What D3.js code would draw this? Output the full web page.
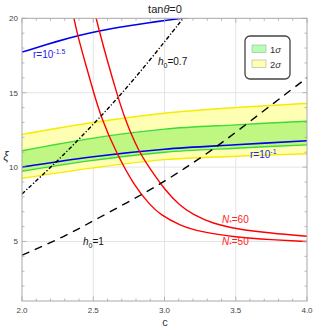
<!DOCTYPE html>
<html><head><meta charset="utf-8">
<script src="https://cdn.jsdelivr.net/npm/d3@7"></script>
<style>html,body{margin:0;padding:0;background:#fff;}svg{display:block;font-family:"Liberation Sans",Arial,sans-serif;}</style>
</head><body>
<script>
// ---- data ----
const bandC = [2.0, 2.5, 3.0, 3.5, 4.0];
const yellowUpper = [12.2, 13.0, 13.62, 14.0, 14.27];
const greenUpper = [11.1, 11.95, 12.55, 12.84, 13.08];
const rMinus1 = [10.0, 10.7, 11.2, 11.5, 11.77];
const greenLower = [9.72, 10.45, 11.0, 11.27, 11.49];
const yellowLower = [9.25, 9.95, 10.5, 10.73, 10.9];

const rMinus15C = [2.0, 2.266, 2.388, 2.542, 2.75, 2.9, 3.0, 3.2];
const rMinus15Xi = [17.73, 18.51, 18.82, 19.17, 19.5, 19.72, 19.85, 20.1];

const n50C = [2.36, 2.39, 2.45, 2.5, 2.56, 2.66, 2.79, 2.9, 2.97, 3.11, 3.25, 3.5, 3.75, 4.0];
const n50Xi = [20.2, 18.85, 16.8, 15.1, 13.2, 11.0, 8.7, 7.44, 6.8, 6.07, 5.65, 5.28, 5.12, 5.0];

const n60C = [2.515, 2.542, 2.6, 2.664, 2.722, 2.816, 2.898, 3.0, 3.108, 3.2, 3.34, 3.5, 3.75, 4.0];
const n60Xi = [20.2, 19.17, 17.1, 15.0, 13.22, 11.1, 9.89, 8.5, 7.4, 6.8, 6.2, 5.85, 5.55, 5.35];

const h07C = [2.0, 2.255, 2.535, 2.675, 2.9, 3.131];
const h07Xi = [8.2, 10.44, 13.22, 14.67, 17.2, 20];

const h1C = [2.0, 2.3, 2.52, 2.9, 3.15, 3.39, 3.8, 4.0];
const h1Xi = [4.08, 5.33, 6.5, 8.44, 9.95, 11.51, 14.55, 16.0];

const xMajor = [2.0, 2.5, 3.0, 3.5, 4.0];
const xTickLabels = ["2.0", "2.5", "3.0", "3.5", "4.0"];
const yMajor = [5, 10, 15, 20];
const yTickLabels = ["5", "10", "15", "20"];

// ---- layout ----
const W = 313, H = 332;
const L = 22, R = 307, T = 18.3, B = 301;
const x = d3.scaleLinear().domain([2, 4]).range([L, R]);
const y = d3.scaleLinear().domain([1, 20]).range([B, T]);

const svg = d3.select("body").append("svg").attr("width", W).attr("height", H);
svg.append("defs").append("clipPath").attr("id", "clip")
  .append("rect").attr("x", L).attr("y", T).attr("width", R - L).attr("height", B - T);

// gridlines
const grid = svg.append("g").attr("stroke", "#e4e4e4").attr("stroke-width", 1);
[2.5, 3.0, 3.5].forEach(v => grid.append("line").attr("x1", x(v)).attr("x2", x(v)).attr("y1", T).attr("y2", B));
[5, 10, 15].forEach(v => grid.append("line").attr("x1", L).attr("x2", R).attr("y1", y(v)).attr("y2", y(v)));

const plot = svg.append("g").attr("clip-path", "url(#clip)");
const smooth = d3.curveCatmullRom.alpha(0.5);

function band(lo, hi, fill) {
  const pts = bandC.map((c, i) => ({c, lo: lo[i], hi: hi[i]}));
  plot.append("path").datum(pts)
    .attr("d", d3.area().x(d => x(d.c)).y0(d => y(d.lo)).y1(d => y(d.hi)).curve(smooth))
    .attr("fill", fill).attr("stroke", "none");
}
function line(cs, vs, color, width, dash, crv) {
  const pts = cs.map((c, i) => [c, vs[i]]);
  const p = plot.append("path").datum(pts)
    .attr("d", d3.line().x(d => x(d[0])).y(d => y(d[1])).curve(crv || smooth))
    .attr("fill", "none").attr("stroke", color).attr("stroke-width", width);
  if (dash) p.attr("stroke-dasharray", dash);
}

band(yellowLower, yellowUpper, "#ffffb4");
band(greenLower, greenUpper, "rgba(60,230,30,0.33)");
line(bandC, yellowUpper, "#f5ec00", 1.4);
line(bandC, yellowLower, "#f5ec00", 1.4);
line(bandC, greenUpper, "#3ed93e", 1.4);
line(bandC, greenLower, "#3ed93e", 1.4);
line(bandC, rMinus1, "#0000ee", 1.6);
line(rMinus15C, rMinus15Xi, "#0000ee", 1.6, null, d3.curveBasis);
line(n50C, n50Xi, "#ff0000", 1.4, null, d3.curveBasis);
line(n60C, n60Xi, "#ff0000", 1.4, null, d3.curveBasis);
line(h07C, h07Xi, "#000", 1.4, "4,2,1.2,2", d3.curveBasis);
line(h1C, h1Xi, "#000", 1.4, "8,6", d3.curveBasis);

// frame
const frame = svg.append("g");
frame.append("rect").attr("x", L).attr("y", T).attr("width", R - L).attr("height", B - T)
  .attr("fill", "none").attr("stroke", "#a8a8a8").attr("stroke-width", 1);
const tk = frame.append("g").attr("stroke", "#a8a8a8").attr("stroke-width", 0.8);
for (let i = 0; i <= 20; i++) {
  const v = 2 + i * 0.1, len = (i % 5 === 0) ? 4.5 : 2.5;
  tk.append("line").attr("x1", x(v)).attr("x2", x(v)).attr("y1", B).attr("y2", B - len);
  tk.append("line").attr("x1", x(v)).attr("x2", x(v)).attr("y1", T).attr("y2", T + len);
}
for (let v = 2; v <= 20; v++) {
  const len = (v % 5 === 0) ? 4.5 : 2.5;
  tk.append("line").attr("x1", L).attr("x2", L + len).attr("y1", y(v)).attr("y2", y(v));
  tk.append("line").attr("x1", R).attr("x2", R - len).attr("y1", y(v)).attr("y2", y(v));
}
const tl = svg.append("g").attr("font-size", 8).attr("fill", "#444");
xMajor.forEach((v, i) => tl.append("text").attr("x", x(v)).attr("y", B + 12).attr("text-anchor", "middle").text(xTickLabels[i]));
yMajor.forEach((v, i) => tl.append("text").attr("x", L - 4).attr("y", y(v) + 3).attr("text-anchor", "end").text(yTickLabels[i]));

// axis labels and title
svg.append("text").attr("x", 165).attr("y", 326).attr("text-anchor", "middle").attr("font-size", 11).attr("fill", "#333").text("c");
svg.append("text").attr("x", 6).attr("y", 160).attr("text-anchor", "middle").attr("font-size", 12).attr("fill", "#333").attr("font-style", "italic").text("ξ");
const title = svg.append("text").attr("x", 165).attr("y", 13).attr("text-anchor", "middle").attr("font-size", 11).attr("fill", "#222");
title.append("tspan").text("tan");
title.append("tspan").attr("font-style", "italic").text("θ");
title.append("tspan").text("=0");

// curve labels
const lab = svg.append("g").attr("font-size", 10);
let t = lab.append("text").attr("x", 33).attr("y", 58).attr("fill", "#2222ee");
t.append("tspan").text("r=10");
t.append("tspan").attr("dy", -4.5).attr("font-size", 7).text("-1.5");
t = lab.append("text").attr("x", 250).attr("y", 158).attr("fill", "#2222ee");
t.append("tspan").text("r=10");
t.append("tspan").attr("dy", -4.5).attr("font-size", 7).text("-1");
t = lab.append("text").attr("x", 158).attr("y", 65).attr("fill", "#111");
t.append("tspan").attr("font-style", "italic").text("h");
t.append("tspan").attr("dy", 2.5).attr("font-size", 7).text("0");
t.append("tspan").attr("dy", -2.5).text("=0.7");
t = lab.append("text").attr("x", 83).attr("y", 245).attr("fill", "#111");
t.append("tspan").attr("font-style", "italic").text("h");
t.append("tspan").attr("dy", 2.5).attr("font-size", 7).text("0");
t.append("tspan").attr("dy", -2.5).text("=1");
[["60", 223], ["50", 245]].forEach(([n, yy]) => {
  const tt = lab.append("text").attr("x", 222).attr("y", yy).attr("fill", "#ff2020");
  tt.append("tspan").attr("font-style", "italic").text("N");
  tt.append("tspan").attr("dy", 2).attr("font-size", 6.5).text("*");
  tt.append("tspan").attr("dy", -2).text("=" + n);
});

// legend
const lg = svg.append("g");
lg.append("rect").attr("x", 245).attr("y", 36).attr("width", 45).attr("height", 43).attr("rx", 5)
  .attr("fill", "#fff").attr("stroke", "#444").attr("stroke-width", 1.3);
lg.append("rect").attr("x", 252).attr("y", 45).attr("width", 14).attr("height", 7.5).attr("fill", "#b4ffb4").attr("stroke", "#9c9c9c").attr("stroke-width", 0.5);
lg.append("rect").attr("x", 252).attr("y", 60).attr("width", 14).attr("height", 7.5).attr("fill", "#ffffb4").attr("stroke", "#9c9c9c").attr("stroke-width", 0.5);
[["1", 52.5], ["2", 67.5]].forEach(([n, yy]) => {
  const tt = lg.append("text").attr("x", 270).attr("y", yy).attr("font-size", 9.5).attr("fill", "#333");
  tt.append("tspan").text(n);
  tt.append("tspan").attr("font-style", "italic").text("σ");
});
</script>
</body></html>
